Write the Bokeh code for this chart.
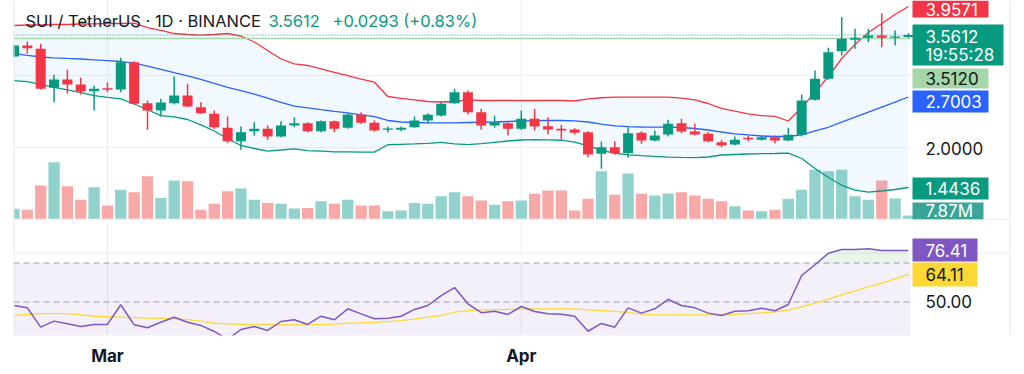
import numpy as np
import pandas as pd
from bokeh.plotting import figure
from bokeh.layouts import column
from bokeh.models import Range1d, FixedTicker
from bokeh.core.properties import value
from bokeh.embed import file_html
from bokeh.resources import INLINE

# ---------------- data ----------------
dates = pd.date_range("2025-02-22", "2025-04-30", freq="D")
month_ticks = {7: "Mar", 38: "Apr"}

opens = [3.263, 3.415, 3.370, 2.828, 2.943, 2.874, 2.781, 2.823, 2.805, 3.184,
         2.614, 2.513, 2.614, 2.721, 2.558, 2.467, 2.273, 2.087, 2.225, 2.259,
         2.152, 2.305, 2.336, 2.225, 2.364, 2.273, 2.457, 2.342, 2.245, 2.245,
         2.281, 2.374, 2.443, 2.614, 2.767, 2.489, 2.305, 2.336, 2.259, 2.398,
         2.295, 2.259, 2.249, 2.212, 1.912, 2.003, 1.920, 2.203, 2.096, 2.180,
         2.336, 2.221, 2.189, 2.073, 2.041, 2.134, 2.106, 2.142, 2.096, 2.175,
         2.661, 2.953, 3.336, 3.495, 3.523, 3.554, 3.523, 3.532]
highs = [3.430, 3.471, 3.439, 3.009, 3.078, 2.967, 2.860, 2.906, 3.245, 3.198,
         2.652, 2.675, 2.985, 2.884, 2.628, 2.513, 2.430, 2.291, 2.350, 2.305,
         2.364, 2.420, 2.350, 2.374, 2.374, 2.475, 2.489, 2.374, 2.291, 2.291,
         2.430, 2.475, 2.642, 2.814, 2.791, 2.536, 2.443, 2.350, 2.513, 2.536,
         2.420, 2.314, 2.267, 2.225, 2.082, 2.086, 2.281, 2.225, 2.235, 2.384,
         2.398, 2.328, 2.212, 2.106, 2.152, 2.166, 2.166, 2.166, 2.273, 2.735,
         3.068, 3.384, 3.809, 3.648, 3.648, 3.864, 3.624, 3.586]
lows = [3.250, 3.300, 2.800, 2.628, 2.745, 2.735, 2.513, 2.767, 2.767, 2.596,
        2.245, 2.430, 2.596, 2.559, 2.467, 2.259, 2.059, 1.967, 2.166, 2.106,
        2.142, 2.281, 2.212, 2.212, 2.212, 2.259, 2.328, 2.221, 2.212, 2.225,
        2.273, 2.336, 2.430, 2.606, 2.457, 2.245, 2.273, 2.166, 2.245, 2.235,
        2.180, 2.110, 2.180, 1.864, 1.703, 1.902, 1.856, 2.050, 2.087, 2.152,
        2.198, 2.166, 2.073, 2.003, 2.027, 2.087, 2.096, 2.059, 2.087, 2.152,
        2.652, 2.939, 3.277, 3.370, 3.461, 3.392, 3.416, 3.523]
closes = [3.415, 3.378, 2.814, 2.943, 2.874, 2.777, 2.814, 2.800, 3.184, 2.606,
          2.513, 2.625, 2.721, 2.568, 2.475, 2.281, 2.087, 2.212, 2.259, 2.152,
          2.305, 2.336, 2.225, 2.364, 2.259, 2.457, 2.342, 2.235, 2.263, 2.273,
          2.374, 2.453, 2.606, 2.767, 2.489, 2.305, 2.350, 2.259, 2.398, 2.291,
          2.249, 2.235, 2.203, 1.902, 2.003, 1.920, 2.198, 2.096, 2.166, 2.328,
          2.221, 2.180, 2.087, 2.027, 2.106, 2.115, 2.142, 2.096, 2.175, 2.652,
          2.953, 3.322, 3.509, 3.523, 3.554, 3.523, 3.532, 3.5612]

bb_upper = [3.693, 3.700, 3.700, 3.707, 3.707, 3.714, 3.717, 3.721, 3.721, 3.725,
            3.665, 3.624, 3.582, 3.568, 3.559, 3.568, 3.582, 3.547, 3.464, 3.346,
            3.228, 3.159, 3.138, 3.090, 3.043, 2.996, 2.949, 2.906, 2.707, 2.680,
            2.659, 2.638, 2.631, 2.638, 2.659, 2.652, 2.652, 2.652, 2.652, 2.652,
            2.652, 2.652, 2.645, 2.673, 2.690, 2.698, 2.698, 2.698, 2.698, 2.698,
            2.686, 2.659, 2.610, 2.541, 2.503, 2.467, 2.443, 2.430, 2.367, 2.555,
            2.763, 2.985, 3.235, 3.429, 3.596, 3.721, 3.846, 3.9571]
bb_basis = [3.304, 3.277, 3.256, 3.245, 3.236, 3.228, 3.217, 3.206, 3.193, 3.170,
            3.128, 3.085, 3.039, 2.995, 2.945, 2.888, 2.834, 2.790, 2.741, 2.684,
            2.625, 2.573, 2.549, 2.524, 2.500, 2.479, 2.453, 2.428, 2.374, 2.353,
            2.346, 2.342, 2.342, 2.342, 2.346, 2.350, 2.353, 2.360, 2.367, 2.371,
            2.374, 2.374, 2.370, 2.353, 2.325, 2.298, 2.288, 2.284, 2.281, 2.281,
            2.277, 2.263, 2.242, 2.214, 2.189, 2.173, 2.159, 2.152, 2.152, 2.173,
            2.230, 2.280, 2.350, 2.420, 2.490, 2.560, 2.628, 2.7003]
bb_lower = [2.929, 2.913, 2.877, 2.835, 2.798, 2.760, 2.720, 2.696, 2.675, 2.603,
            2.523, 2.443, 2.424, 2.388, 2.313, 2.228, 2.120, 2.027, 1.985, 1.948,
            1.964, 1.981, 1.957, 1.948, 1.939, 1.937, 1.934, 1.934, 2.037, 2.042,
            2.048, 2.057, 2.071, 2.050, 2.039, 2.053, 2.071, 2.089, 2.103, 2.109,
            2.106, 2.100, 2.075, 2.020, 1.964, 1.916, 1.898, 1.885, 1.875, 1.866,
            1.862, 1.859, 1.867, 1.895, 1.902, 1.909, 1.913, 1.916, 1.920, 1.846,
            1.707, 1.583, 1.474, 1.406, 1.380, 1.395, 1.416, 1.4436]

volume_m = [24, 22, 80, 136, 78, 46, 76, 32, 70, 64,
            102, 50, 92, 90, 22, 36, 66, 73, 46, 38,
            36, 25, 26, 42, 36, 46, 32, 32, 18, 20,
            38, 36, 54, 64, 54, 44, 34, 42, 44, 60,
            68, 68, 20, 48, 114, 58, 109, 60, 56, 61,
            64, 56, 48, 42, 30, 20, 18, 22, 48, 70,
            118, 114, 118, 54, 46, 92, 49, 7.87]

rsi = [48.2, 47.0, 37.1, 40.2, 38.8, 37.4, 38.5, 38.5, 48.6, 38.3,
       36.8, 39.6, 42.2, 39.6, 38.0, 34.9, 30.8, 35.9, 37.4, 35.4,
       40.0, 40.9, 38.5, 42.7, 40.9, 46.5, 43.9, 41.4, 41.7, 42.7,
       46.2, 48.2, 53.3, 57.4, 49.1, 44.5, 45.3, 43.6, 47.7, 45.1,
       44.0, 43.7, 42.7, 35.0, 39.0, 37.1, 47.0, 44.3, 46.5, 51.3,
       48.2, 47.0, 44.3, 43.1, 45.3, 45.5, 46.8, 45.5, 48.7, 63.6,
       69.1, 75.0, 76.9, 76.9, 77.3, 76.4, 76.4, 76.41]
rsi_ma = [43.1, 43.6, 44.0, 44.0, 44.0, 43.4, 42.7, 42.5, 42.2, 42.0,
          41.7, 41.6, 41.4, 41.0, 40.2, 39.1, 38.8, 38.5, 38.5, 38.5,
          38.4, 38.3, 38.4, 38.5, 38.7, 39.1, 39.3, 39.6, 39.9, 40.5,
          41.2, 42.2, 43.0, 44.8, 45.6, 46.0, 46.1, 46.2, 46.3, 46.4,
          46.5, 46.5, 46.5, 46.0, 45.7, 45.2, 44.5, 43.9, 43.4, 43.4,
          43.4, 43.4, 43.4, 43.5, 43.7, 44.0, 44.4, 45.0, 45.8, 47.5,
          49.4, 51.5, 53.6, 55.7, 57.7, 59.7, 61.9, 64.11]

last_price = 3.5612
ref_price = 3.5120
price_grid = [2.0, 3.0]
rsi_levels = [70, 50]
rsi_grid = [75]

title_main = "SUI / TetherUS · 1D · BINANCE"
title_last = "3.5612"
title_change = "+0.0293 (+0.83%)"
countdown = "19:55:28"

# ---------------- layout helpers (page pixels -> data) ----------------
PX0, PXW = 13.5, 13.35          # page x of first candle, px per candle
P0, PK = 4.0404, 0.013887       # price at page y 0, price per px
R70, RK = 262.5, 1.95           # page y of RSI 70, px per RSI unit
VOLPX = 2.4                     # million per px


def dx(px):
    return (px - PX0) / PXW


def py(px):
    return P0 - PK * px


def ry(px):
    return 70 - (px - R70) / RK


FONT = value("Inter")
DARK = "#131722"
UP, DN = "#089981", "#f23645"
GRID = "#eceff4"
BORDER = "#e0e3eb"

idx = np.arange(len(opens))
o = np.array(opens)
c = np.array(closes)
is_up = c >= o
ccol = [UP if u else DN for u in is_up]
vcol = ["#92d2cc" if u else "#f7a9a7" for u in is_up]
btop = np.maximum(o, c)
bbot = np.minimum(o, c)
btop = np.maximum(btop, bbot + 1.2 * PK)

xr = Range1d(dx(13), dx(1010))

# ---------------- main pane ----------------
pA = figure(width=1024, height=220, x_range=xr, y_range=Range1d(py(220), py(0)),
            x_axis_type=None, y_axis_type=None, output_backend="svg",
            toolbar_location=None, title=None,
            min_border_left=13, min_border_right=14, min_border_top=0, min_border_bottom=0)
pA.outline_line_color = None
pA.extra_y_ranges = {"vol": Range1d(-1.7 * VOLPX, (220 - 1.7) * VOLPX)}

pA.segment(x0=[dx(13)] * len(price_grid), x1=[dx(910)] * len(price_grid),
           y0=price_grid, y1=price_grid, line_color=GRID, line_width=1)
pA.segment(x0=list(month_ticks), x1=list(month_ticks), y0=py(220), y1=py(0),
           line_color=GRID, line_width=1)

pA.vbar(x=idx, top=volume_m, bottom=0, width=0.85, fill_color=vcol,
        line_color=None, y_range_name="vol")

pA.varea(x=idx, y1=bb_lower, y2=bb_upper, fill_color="#2196f3", fill_alpha=0.06)
pA.line(idx, bb_upper, line_color=DN, line_width=1.3)
pA.line(idx, bb_basis, line_color="#2962ff", line_width=1.3)
pA.line(idx, bb_lower, line_color=UP, line_width=1.3)

pA.line([dx(13), dx(910)], [ref_price, ref_price], line_color="#a5d6a7", line_width=1.6)
pA.line([dx(13), dx(910)], [last_price, last_price], line_color=UP, line_width=1.2,
        line_dash="1 2")

pA.segment(x0=idx, x1=idx, y0=lows, y1=highs, line_color=ccol, line_width=1.5)
pA.vbar(x=idx, top=btop, bottom=bbot, width=0.75, fill_color=ccol, line_color=None)

# price scale tags
tagsA = [
    ("3.9571", 0, 17, 988, DN, "white", 8.5),
    ("3.5612", 24, 65, 1003, UP, "white", 35.5),
    ("3.5120", 68, 88, 988, "#a5d6a7", DARK, 78),
    ("2.7003", 90, 112, 988, "#2962ff", "white", 101),
    ("2.0000", None, None, None, None, DARK, 147.5),
    ("1.4436", 177, 199, 988, UP, "white", 188),
    ("7.87M", 202, 219, 983, "#3aa597", "white", 210.5),
]
for t, yt, yb, xr_px, fc, tc, yc in tagsA:
    if fc is not None:
        pA.quad(left=dx(912), right=dx(xr_px), top=py(yt), bottom=py(yb),
                fill_color=fc, line_color=None)
    pA.text(x=[dx(925)], y=[py(yc)], text=[t], text_font=FONT, text_font_size="17px",
            text_color=tc, text_baseline="middle", text_align="left")
pA.text(x=[dx(925)], y=[py(54)], text=[countdown], text_font=FONT, text_font_size="17px",
        text_color="white", text_baseline="middle", text_align="left")

# header
pA.text(x=[dx(25)], y=[py(20.7)], text=[title_main], text_font=FONT,
        text_font_size="16.5px", text_color=DARK, text_baseline="alphabetic")
pA.text(x=[dx(268)], y=[py(20.7)], text=[title_last], text_font=FONT,
        text_font_size="16.5px", text_color=UP, text_baseline="alphabetic")
pA.text(x=[dx(332)], y=[py(20.7)], text=[title_change], text_font=FONT,
        text_font_size="16.5px", text_color=UP, text_baseline="alphabetic")

pA.segment(x0=[dx(13.5), dx(1009.5)], x1=[dx(13.5), dx(1009.5)], y0=py(220), y1=py(0),
           line_color=BORDER, line_width=1)
pA.segment(x0=dx(13), x1=dx(1010), y0=py(219.5), y1=py(219.5), line_color=BORDER, line_width=1)

# ---------------- RSI pane ----------------
pB = figure(width=1024, height=154, x_range=xr, y_range=Range1d(ry(335), ry(220)),
            y_axis_type=None, output_backend="svg", toolbar_location=None, title=None,
            min_border_left=13, min_border_right=14, min_border_top=0, min_border_bottom=39)
pB.outline_line_color = None
pB.xgrid.visible = False
pB.xaxis.ticker = FixedTicker(ticks=list(month_ticks))
pB.xaxis.major_label_overrides = month_ticks
pB.xaxis.axis_line_color = None
pB.xaxis.major_tick_line_color = None
pB.xaxis.minor_tick_line_color = None
pB.xaxis.major_tick_out = 0
pB.xaxis.major_tick_in = 0
pB.xaxis.major_label_standoff = 10
pB.xaxis.major_label_text_font = "Inter"
pB.xaxis.major_label_text_font_style = "bold"
pB.xaxis.major_label_text_font_size = "17px"
pB.xaxis.major_label_text_color = DARK

pB.segment(x0=list(month_ticks), x1=list(month_ticks), y0=ry(335), y1=ry(220),
           line_color=GRID, line_width=1)
pB.segment(x0=[dx(13)] * len(rsi_grid), x1=[dx(1010)] * len(rsi_grid),
           y0=rsi_grid, y1=rsi_grid, line_color=GRID, line_width=1)
pB.quad(left=dx(13), right=dx(910), bottom=30, top=70, fill_color="#7e57c2",
        fill_alpha=0.09, line_color=None)
pB.varea(x=idx, y1=70, y2=np.maximum(np.array(rsi), 70), fill_color="#4caf50", fill_alpha=0.12)
for lv in rsi_levels:
    pB.line([dx(13), dx(910)], [lv, lv], line_color="#787b86", line_alpha=0.7,
            line_width=1, line_dash="6 4")
pB.line(idx, rsi_ma, line_color="#fdd835", line_width=1.3)
pB.line(idx, rsi, line_color="#7e57c2", line_width=1.5)

tagsB = [
    ("76.41", 238, 261, 977, "#7e57c2", "white", 249.5),
    ("64.11", 262, 286, 977, "#fdd835", DARK, 274),
    ("50.00", None, None, None, None, DARK, 300.5),
]
for t, yt, yb, xr_px, fc, tc, yc in tagsB:
    if fc is not None:
        pB.quad(left=dx(912), right=dx(xr_px), top=ry(yt), bottom=ry(yb),
                fill_color=fc, line_color=None)
    pB.text(x=[dx(925)], y=[ry(yc)], text=[t], text_font=FONT, text_font_size="17px",
            text_color=tc, text_baseline="middle", text_align="left")

pB.segment(x0=[dx(13.5), dx(1009.5)], x1=[dx(13.5), dx(1009.5)], y0=ry(335), y1=ry(220),
           line_color=BORDER, line_width=1)

layout = column(pA, pB, spacing=0)
open("out.html", "w").write(file_html(layout, INLINE))
